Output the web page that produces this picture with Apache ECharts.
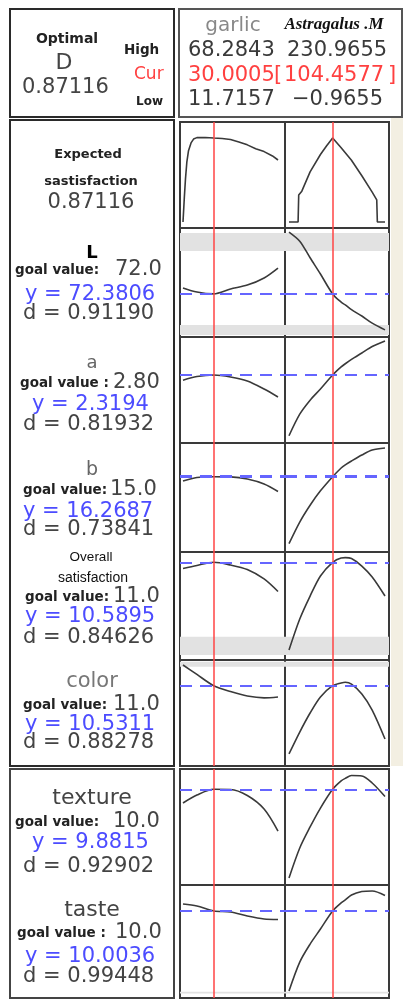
<!DOCTYPE html>
<html><head><meta charset="utf-8">
<script src="https://cdn.jsdelivr.net/npm/echarts@6/dist/echarts.min.js"></script>
<style>html,body{margin:0;padding:0;background:#fff}#c{width:403px;height:1001px}</style>
</head><body><div id="c"></div>
<script>
// ---------- data ----------
const factorNames = ['garlic', 'Astragalus .M'];
const factorLow = [11.7157, -0.9655];
const factorHigh = [68.2843, 230.9655];
const factorCur = [30.0005, 104.4577];
const compositeD = 0.87116;
const responseNames = ['L', 'a', 'b', 'Overall satisfaction', 'color', 'texture', 'taste'];
const goalLabels = ['goal value:', 'goal value :', 'goal value:', 'goal value:', 'goal value:', 'goal value:', 'goal value :'];
const goalValues = ['72.0', '2.80', '15.0', '11.0', '11.0', '10.0', '10.0'];
const yCurrent = [72.3806, 2.3194, 16.2687, 10.5895, 10.5311, 9.8815, 10.0036];
const dValues = ['0.91190', '0.81932', '0.73841', '0.84626', '0.88278', '0.92902', '0.99448'];

const garlicX = [11.7157, 20, 30.0005, 40, 50, 60, 68.2843];
const astraX = [-0.9655, 25, 50, 75, 104.4577, 125, 135, 150, 175, 200, 230.9655];

// composite desirability curves [x, D]
const dGarlic = [[11.7157,0],[12.5,0.25],[13.2,0.45],[14,0.62],[15,0.74],[16.5,0.82],[18,0.86],[20,0.875],[25,0.877],[30.0005,0.87116],[35,0.866],[40,0.856],[45,0.83],[50,0.80],[55,0.76],[60,0.73],[65,0.685],[68.2843,0.643]];
const dAstra = [[-0.9655,0],[21,0],[22.5,0.28],[30,0.32],[50,0.52],[75,0.70],[90,0.79],[104.4577,0.87116],[115,0.82],[125,0.77],[150,0.64],[175,0.48],[200,0.31],[211,0.23],[212.5,0],[230.9655,0]];

// response curves (y at garlicX / astraX)
const lGarlic = [73.9, 72.85, 72.3806, 73.6, 74.6, 76.4, 78.9];
const lAstra = [88.0, 85.7, 81.5, 77.4, 72.3806, 70.3, 69.6, 68.4, 66.8, 65.0, 63.3];
const aGarlic = [2.19, 2.28, 2.3194, 2.27, 2.17, 1.97, 1.77];
const aAstra = [0.80, 1.34, 1.69, 1.97, 2.3194, 2.52, 2.60, 2.71, 2.87, 3.03, 3.17];
const bGarlic = [15.73, 16.17, 16.2687, 16.24, 15.98, 15.36, 14.42];
const bAstra = [7.9, 10.6, 12.7, 14.5, 16.2687, 17.36, 17.75, 18.23, 18.98, 19.61, 19.86];
const oGarlic = [10.18, 10.38, 10.5895, 10.41, 10.11, 9.48, 8.64];
const oAstra = [4.74, 6.81, 8.34, 9.68, 10.5895, 10.88, 10.90, 10.84, 10.34, 9.61, 8.34];
const cGarlic = [11.91, 11.28, 10.5311, 10.14, 9.84, 9.72, 9.78];
const cAstra = [5.98, 7.44, 8.71, 9.78, 10.5311, 10.71, 10.76, 10.64, 9.98, 8.91, 6.98];
const txGarlic = [8.97, 9.50, 9.8815, 9.87, 9.47, 8.57, 7.10];
const txAstra = [3.97, 5.97, 7.37, 8.63, 9.8815, 10.44, 10.61, 10.80, 10.77, 10.30, 9.40];
const tsGarlic = [10.47, 10.34, 10.0036, 9.94, 9.67, 9.47, 9.44];
const tsAstra = [4.67, 6.60, 7.80, 8.80, 10.0036, 10.54, 10.74, 11.07, 11.30, 11.34, 11.04];

// y-axis range of each row (bottom, top of the cell)
const rowRanges = [[-0.062,1.037],[61.5,89.02],[0.619,3.269],[6.856,20.48],[4.076,11.276],[5.178,12.244],[3.501,11.235],[4.204,11.737]];
// shaded bands per row [from, to]
const shadedBands = [[], [[83.2,87.76],[62.0,64.5]], [], [], [[4.41,5.63]], [[11.80,12.13]], [], [[4.50,4.62]]];

// ---------- layout ----------
const rowEdges = [[122,228],[228,337],[337,443],[443,552],[552,660],[660,766],[769,885],[885,998]];
const colEdges = [[180,285],[285,389]];
const curvePad = [[3,7],[4,4]];
const FONT = 'DejaVu Sans';

const zipXY = (xs, ys) => xs.map((x, i) => [x, ys[i]]);
const curves = [
  [dGarlic, dAstra],
  [zipXY(garlicX,lGarlic), zipXY(astraX,lAstra)],
  [zipXY(garlicX,aGarlic), zipXY(astraX,aAstra)],
  [zipXY(garlicX,bGarlic), zipXY(astraX,bAstra)],
  [zipXY(garlicX,oGarlic), zipXY(astraX,oAstra)],
  [zipXY(garlicX,cGarlic), zipXY(astraX,cAstra)],
  [zipXY(garlicX,txGarlic), zipXY(astraX,txAstra)],
  [zipXY(garlicX,tsGarlic), zipXY(astraX,tsAstra)]
];

const grids = [], xAxes = [], yAxes = [], series = [];
rowEdges.forEach((re, r) => {
  colEdges.forEach((ce, c) => {
    const idx = grids.length;
    const w = ce[1] - ce[0];
    const span = w - curvePad[c][0] - curvePad[c][1];
    const per = (factorHigh[c] - factorLow[c]) / span;
    grids.push({left: ce[0], top: re[0], width: w, height: re[1] - re[0], show: true,
      backgroundColor: '#fff', borderColor: '#3a3a3a', borderWidth: 2, containLabel: false});
    xAxes.push({type: 'value', gridIndex: idx, show: false, splitLine: {show: false},
      min: factorLow[c] - curvePad[c][0] * per, max: factorHigh[c] + curvePad[c][1] * per});
    yAxes.push({type: 'value', gridIndex: idx, show: false, splitLine: {show: false},
      min: rowRanges[r][0], max: rowRanges[r][1], scale: true});
    const ml = [{xAxis: factorCur[c], lineStyle: {color: '#ff4545', width: 1.5, type: 'solid'}}];
    if (r > 0) ml.push({yAxis: yCurrent[r - 1], lineStyle: {color: '#6565ff', width: r === 3 ? 3 : 2, type: [12, 8]}});
    series.push({
      type: 'line', xAxisIndex: idx, yAxisIndex: idx, data: curves[r][c],
      showSymbol: false, smooth: r === 0 ? false : 0.3,
      lineStyle: {color: '#3a3a3a', width: 1.6}, silent: true, z: 3,
      markLine: {silent: true, symbol: 'none', label: {show: false}, data: ml, z: 4, animation: false},
      markArea: shadedBands[r].length ? {silent: true, itemStyle: {color: '#e2e2e2'},
        data: shadedBands[r].map(b => [{yAxis: b[0]}, {yAxis: b[1]}])} : undefined,
      animation: false
    });
  });
});

// ---------- text / frames ----------
const g = [];
const txt = (x, y, text, o = {}) => g.push({type: 'text', x, y, z: 10, style: {
  text, fontFamily: o.ff || FONT, fontSize: o.fs || 21, fontWeight: o.fw || 'normal',
  fontStyle: o.fst || 'normal', fill: o.col || '#444', align: o.al || 'left', verticalAlign: 'middle'}});
const box = (x, y, w, h, o = {}) => g.push({type: 'rect', z: o.z || 1, shape: {x, y, width: w, height: h},
  style: {fill: o.fill || '#fff', stroke: o.stroke || '#333', lineWidth: o.lw == null ? 2 : o.lw}});

// beige strip on the right
box(391, 118, 12, 648, {fill: '#f3efe2', stroke: 'none', lw: 0});
// header boxes
box(10, 9, 164, 108, {stroke: '#2a2a2a', lw: 2});
box(179, 9, 223, 108, {stroke: '#555', lw: 2});
// left panels
box(10, 120, 164, 646, {stroke: '#2a2a2a', lw: 2});
box(10, 769, 164, 229, {stroke: '#444', lw: 2});

// header texts
txt(67, 39, 'Optimal', {fw: 'bold', fs: 14, col: '#222', al: 'center'});
txt(64, 63, 'D', {fs: 22, col: '#444', al: 'center'});
txt(22, 88, compositeD.toFixed(5), {fs: 21, col: '#444'});
txt(124, 50, 'High', {fw: 'bold', fs: 13.5, col: '#222'});
txt(134, 75, 'Cur', {fs: 17, col: '#ff4040'});
txt(136, 102, 'Low', {fw: 'bold', fs: 12, col: '#222'});

txt(233, 26, factorNames[0], {fs: 20, col: '#888', al: 'center'});
txt(334, 25, factorNames[1], {ff: 'Liberation Serif', fs: 17, fw: 'bold', fst: 'italic', col: '#111', al: 'center'});
const fmtHi = [factorHigh[0].toFixed(4), factorHigh[1].toFixed(4)];
const fmtLo = [factorLow[0].toFixed(4), '\u2212' + Math.abs(factorLow[1]).toFixed(4)];
txt(188, 51, fmtHi[0], {col: '#3a3a3a'});
txt(287, 51, fmtHi[1], {col: '#3a3a3a'});
txt(188, 76, factorCur[0].toFixed(4), {col: '#ff4040'});
txt(274, 76, '[', {col: '#ff4040'});
txt(284, 76, factorCur[1].toFixed(4), {col: '#ff4040'});
txt(388, 76, ']', {col: '#ff4040'});
txt(188, 100, fmtLo[0], {col: '#3a3a3a'});
txt(292, 100, fmtLo[1], {col: '#3a3a3a'});

// composite block
txt(88, 155, 'Expected', {fw: 'bold', fs: 13, col: '#222', al: 'center'});
txt(91, 182, 'sastisfaction', {fw: 'bold', fs: 13, col: '#222', al: 'center'});
txt(91, 203, compositeD.toFixed(5), {fs: 21, col: '#444', al: 'center'});

// response blocks: [nameY, goalY, yY, dY, labelX, numX, yX]
const blocks = [
  [253, 270, 295, 314, 15, 115, 25],
  [363, 383, 405, 425, 20, 113, 32],
  [470, 490, 512, 530, 23, 110, 23],
  [567, 597, 617, 638, 25, 113, 25],
  [682, 705, 725, 743, 23, 113, 25],
  [798, 822, 843, 867, 15, 113, 32],
  [910, 933, 957, 977, 17, 115, 25]
];
const nameStyles = [
  {fw: 'bold', fs: 18, col: '#000'},
  {fs: 18, col: '#666'},
  {fs: 19, col: '#666'},
  null,
  {fs: 21, col: '#777'},
  {fs: 22, col: '#444'},
  {fs: 22, col: '#444'}
];
blocks.forEach((b, i) => {
  if (nameStyles[i]) {
    txt(92, b[0], responseNames[i], Object.assign({al: 'center'}, nameStyles[i]));
  } else {
    const parts = responseNames[i].split(' ');
    txt(91, b[0] - 10, parts[0], {ff: 'Liberation Sans', fs: 13.5, col: '#111', al: 'center'});
    txt(93, b[0] + 11, parts[1], {ff: 'Liberation Sans', fs: 14, col: '#111', al: 'center'});
  }
  txt(b[4], b[1], goalLabels[i], {fw: 'bold', fs: 13.5, col: '#222'});
  txt(b[5], b[1], goalValues[i], {fs: 21, col: '#444'});
  txt(b[6], b[2], 'y = ' + yCurrent[i].toFixed(4), {fs: 21, col: '#4c4cff'});
  txt(23, b[3], 'd = ' + dValues[i], {fs: 21, col: '#444'});
});

const chart = echarts.init(document.getElementById('c'), null, {renderer: 'canvas'});
chart.setOption({
  backgroundColor: '#fff',
  animation: false,
  grid: grids, xAxis: xAxes, yAxis: yAxes, series: series,
  graphic: {elements: g}
});
</script>
</body></html>
